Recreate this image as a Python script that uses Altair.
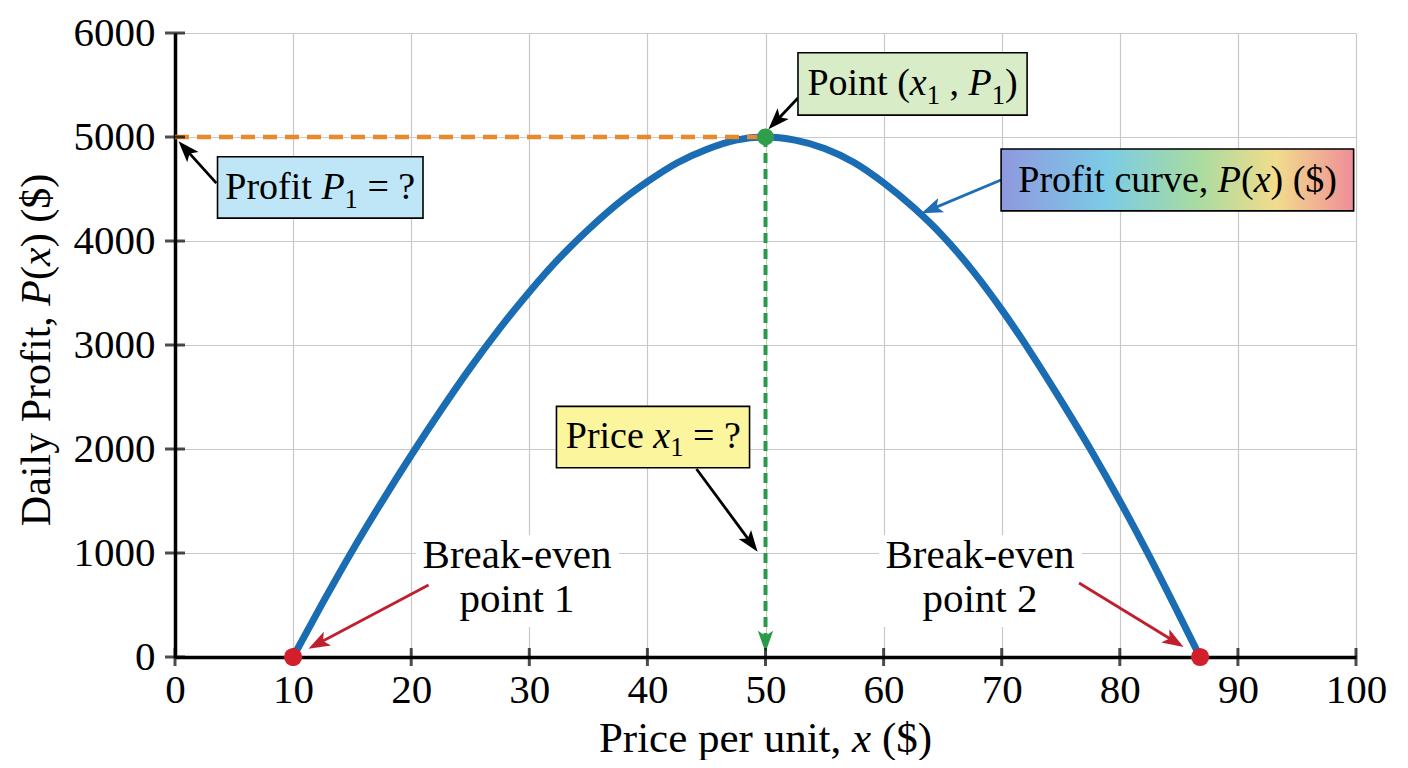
import math
import pandas as pd
import altair as alt

# profit curve
curve_x = [10, 12.5, 15, 17.5, 20, 22.5, 25, 27.5, 30, 32.5, 35, 37.5, 40, 42.5, 45, 47.5, 50,
           52.5, 55, 57.5, 60, 62.5, 65, 67.5, 70, 72.5, 75, 77.5, 80, 82.5, 85, 86.8]
curve_p = [0, 520, 1020, 1490, 1940, 2370, 2780, 3160, 3510, 3830, 4110, 4360, 4570, 4750, 4880, 4970, 5000,
           4970, 4890, 4755, 4560, 4325, 4050, 3720, 3340, 2920, 2470, 2000, 1500, 970, 410, 0]

break_even_x = [10, 86.8]
break_even_p = [0, 0]
peak_x = [50]
peak_p = [5000]

x_ticks = [0, 10, 20, 30, 40, 50, 60, 70, 80, 90, 100]
y_ticks = [0, 1000, 2000, 3000, 4000, 5000, 6000]

W, H = 1181, 624
X_MAX, Y_MAX = 100, 6000
XPX = W / X_MAX
YPX = H / Y_MAX
FONT = 'Liberation Serif'

xs = alt.Scale(domain=[0, X_MAX], nice=False, zero=False)
ys = alt.Scale(domain=[0, Y_MAX], nice=False, zero=False)


def px_x(page_x):
    return (page_x - 175) / XPX


def px_y(page_y):
    return (657 - page_y) / YPX


# Times / Liberation Serif advance widths (1/1000 em)
W_REG = {' ': 250, '(': 333, ')': 333, ',': 250, '$': 500, '=': 564, '?': 444, '1': 500, '2': 500,
         'P': 556, 'D': 722, 'B': 667, 'a': 444, 'c': 444, 'e': 444, 'f': 333, 'i': 278, 'l': 278,
         'n': 500, 'o': 500, 'p': 500, 'r': 333, 't': 278, 'u': 500, 'v': 500, 'y': 500, 'k': 500,
         '-': 333}
W_IT = {'P': 611, 'x': 444}


def width(text, style, fs):
    table = W_IT if style == 'i' else W_REG
    return sum(table[c] for c in text) / 1000 * fs


def lay_out(pieces, cx, base_y, fs, rows, rotated=False):
    sizes = [fs * 0.7 if s == 's' else fs for _, s in pieces]
    total = sum(width(t, s, f) for (t, s), f in zip(pieces, sizes))
    pos = -total / 2
    for (t, s), f in zip(pieces, sizes):
        lead = len(t) - len(t.lstrip(' '))
        start = pos + lead * 250 / 1000 * f
        if t.strip():
            if rotated:
                rows.append(dict(x=cx, y=base_y + start / YPX, text=t.strip(), fs=f,
                                 style='italic' if s == 'i' else 'normal', angle=270))
            else:
                dy = 0.22 * fs / YPX if s == 's' else 0
                rows.append(dict(x=cx + start / XPX, y=base_y - dy, text=t.strip(), fs=f,
                                 style='italic' if s == 'i' else 'normal', angle=0))
        pos += width(t, s, f)


rows = []
lay_out([('Profit ', 'n'), ('P', 'i'), ('1', 's'), (' = ?', 'n')], 12.3, 4400, 38, rows)
lay_out([('Point (', 'n'), ('x', 'i'), ('1', 's'), (' , ', 'n'), ('P', 'i'), ('1', 's'), (')', 'n')],
        62.45, 5400, 38, rows)
lay_out([('Profit curve, ', 'n'), ('P', 'i'), ('(', 'n'), ('x', 'i'), (') ($)', 'n')], 84.9, 4475, 38, rows)
lay_out([('Price ', 'n'), ('x', 'i'), ('1', 's'), (' = ?', 'n')], 40.5, 2010, 38, rows)
lay_out([('Break-even', 'n')], 28.96, 856, 41, rows)
lay_out([('point 1', 'n')], 28.96, 433, 41, rows)
lay_out([('Break-even', 'n')], 68.16, 856, 41, rows)
lay_out([('point 2', 'n')], 68.16, 433, 41, rows)
# axis titles
lay_out([('Price per unit, ', 'n'), ('x', 'i'), (' ($)', 'n')], 50, px_y(752), 43, rows)
lay_out([('Daily Profit, ', 'n'), ('P', 'i'), ('(', 'n'), ('x', 'i'), (') ($)', 'n')],
        px_x(50), px_y(350), 42, rows, rotated=True)
text_df = pd.DataFrame(rows)

# arrows: start, tip, colour
arrows = [
    (3.5, 4557, 0.3, 4960, 'black'),
    (52.75, 5375, 50.25, 5075, 'black'),
    (69.94, 4586, 63.2, 4266, '#1f6db5'),
    (44.16, 1808, 49.33, 1012, 'black'),
    (21.47, 692, 11.3, 80, '#c01f2e'),
    (76.55, 711, 85.4, 96, '#c01f2e'),
    (50, 5000, 50, 45, '#2b9a48'),
]
HEAD_R = 11
line_rows, head_rows = [], []
for i, (x0, y0, x1, y1, c) in enumerate(arrows):
    dxp = (x1 - x0) * XPX
    dyp = -(y1 - y0) * YPX
    L = math.hypot(dxp, dyp)
    ux, uy = dxp / L, dyp / L
    ang = math.degrees(math.atan2(ux, -uy)) % 360
    hx = x1 - ux * HEAD_R / XPX
    hy = y1 + uy * HEAD_R / YPX
    head_rows.append(dict(x=hx, y=hy, angle=ang, color=c))
    if i < len(arrows) - 1:
        line_rows.append(dict(x=x0, y=y0, x2=hx, y2=hy, color=c))
green_end = head_rows[-1]['y']

ARROW = 'M0,-1L0.7,0.95L0,0.5L-0.7,0.95Z'

x_axis = alt.Axis(values=x_ticks, title='', format='d', labelFont=FONT, labelFontSize=41,
                  labelColor='black', labelPadding=13, labelFlush=False, labelOverlap=False, ticks=False,
                  domainColor='black', domainWidth=3.5, gridColor='#c9c9c9', gridWidth=1.2)
y_axis = alt.Axis(values=y_ticks, title='', format='d', labelFont=FONT, labelFontSize=41,
                  labelColor='black', labelPadding=20, labelFlush=False, labelOverlap=False, ticks=False,
                  domainColor='black', domainWidth=3.5, gridColor='#c9c9c9', gridWidth=1.2)


def ex(field):
    return alt.X(field, scale=xs, axis=x_axis)


def ey(field):
    return alt.Y(field, scale=ys, axis=y_axis)


text_bg = alt.Chart(pd.DataFrame({'x': [20.4, 59.6], 'x2': [37.6, 76.8], 'y': [288, 288], 'y2': [1173, 1173]})
                    ).mark_rect(color='white').encode(x=ex('x:Q'), x2='x2', y=ey('y:Q'), y2='y2')

orange = alt.Chart(pd.DataFrame({'x': [0], 'x2': peak_x, 'y': peak_p})).mark_rule(
    color='#e8892b', strokeWidth=4.5, strokeDash=[14, 8]).encode(x=ex('x:Q'), x2='x2', y=ey('y:Q'))

green = alt.Chart(pd.DataFrame({'x': peak_x, 'y': peak_p, 'y2': [green_end]})).mark_rule(
    color='#2b9a48', strokeWidth=4, strokeDash=[10, 6]).encode(x=ex('x:Q'), y=ey('y:Q'), y2='y2')

curve = alt.Chart(pd.DataFrame({'x': curve_x, 'p': curve_p})).mark_line(
    color='#1a6cb3', strokeWidth=7, interpolate='monotone', strokeCap='round').encode(
    x=ex('x:Q'), y=ey('p:Q'))

arrow_lines = alt.Chart(pd.DataFrame(line_rows)).mark_rule(strokeWidth=2.8).encode(
    x=ex('x:Q'), y=ey('y:Q'), x2='x2', y2='y2', color=alt.Color('color:N', scale=None))

arrow_heads = alt.Chart(pd.DataFrame(head_rows)).mark_point(
    shape=ARROW, filled=True, size=(2 * HEAD_R) ** 2, opacity=1, strokeWidth=0).encode(
    x=ex('x:Q'), y=ey('y:Q'), angle=alt.Angle('angle:Q', scale=None),
    color=alt.Color('color:N', scale=None))

x_tick_marks = alt.Chart(pd.DataFrame({'x': x_ticks, 'y': [0] * len(x_ticks)})).mark_tick(
    orient='vertical', size=18, thickness=3, color='black').encode(x=ex('x:Q'), y=ey('y:Q'))
y_tick_marks = alt.Chart(pd.DataFrame({'x': [0] * len(y_ticks), 'y': y_ticks})).mark_tick(
    orient='horizontal', size=20, thickness=3, color='black').encode(x=ex('x:Q'), y=ey('y:Q'))

red_dots = alt.Chart(pd.DataFrame({'x': break_even_x, 'p': break_even_p})).mark_point(
    filled=True, size=330, color='#d11f2b', opacity=1).encode(x=ex('x:Q'), y=ey('p:Q'))
peak_dot = alt.Chart(pd.DataFrame({'x': peak_x, 'p': peak_p})).mark_point(
    filled=True, size=290, color='#2e9e4a', opacity=1).encode(x=ex('x:Q'), y=ey('p:Q'))

boxes = alt.Chart(pd.DataFrame({
    'x': [3.6, 52.75, 32.3], 'x2': [21.0, 72.15, 48.65],
    'y': [4220, 5210, 1820], 'y2': [4810, 5810, 2410],
    'fill': ['#bfe6f6', '#d8ecc8', '#fbf59e'],
})).mark_rect(stroke='black', strokeWidth=1.6).encode(
    x=ex('x:Q'), x2='x2', y=ey('y:Q'), y2='y2', fill=alt.Fill('fill:N', scale=None))

rainbow = alt.LinearGradient(
    gradient='linear', x1=0, x2=1, y1=0, y2=0,
    stops=[alt.GradientStop(color='#8f98de', offset=0),
           alt.GradientStop(color='#7ccbe6', offset=0.3),
           alt.GradientStop(color='#a6dba2', offset=0.55),
           alt.GradientStop(color='#f1dc8c', offset=0.78),
           alt.GradientStop(color='#ef8e99', offset=1)])
grad_box = alt.Chart(pd.DataFrame({'x': [69.95], 'x2': [99.8], 'y': [4290], 'y2': [4885]})).mark_rect(
    fill=rainbow, stroke='black', strokeWidth=1.6).encode(x=ex('x:Q'), x2='x2', y=ey('y:Q'), y2='y2')


def text_layer(style, angle):
    return alt.Chart(text_df).transform_filter(
        (alt.datum.style == style) & (alt.datum.angle == angle)
    ).mark_text(align='left', baseline='alphabetic', font=FONT, fontStyle=style,
                color='black', angle=angle).encode(
        x=ex('x:Q'), y=ey('y:Q'), text='text:N', size=alt.Size('fs:Q', scale=None, legend=None))


chart = alt.layer(
    curve, text_bg, orange, green, arrow_lines, arrow_heads, x_tick_marks, y_tick_marks,
    red_dots, peak_dot, boxes, grad_box,
    text_layer('normal', 0), text_layer('italic', 0), text_layer('normal', 270), text_layer('italic', 270),
).properties(
    width=W, height=H,
    autosize=alt.AutoSizeParams(type='none'),
    padding={'left': 167, 'top': 25, 'right': 44, 'bottom': 103},
    background='white',
).configure_view(strokeWidth=0)

chart.save('out.html', embed_options={'renderer': 'svg', 'actions': False})
